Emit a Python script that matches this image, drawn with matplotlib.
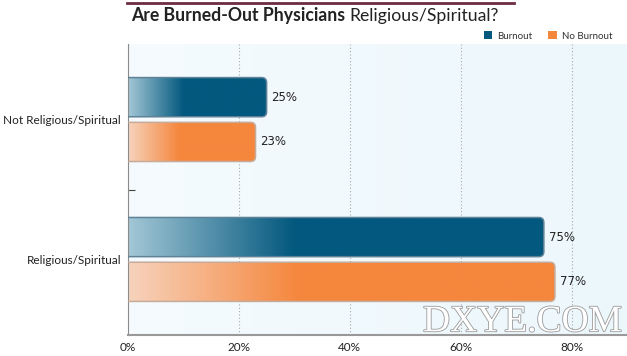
import numpy as np
import matplotlib.pyplot as plt
from matplotlib.patches import FancyBboxPatch, Patch
from matplotlib.colors import to_rgb
import matplotlib.patheffects as pe

# -----------------------------
# Data
# -----------------------------
categories = ['Not Religious/Spiritual', 'Religious/Spiritual']
burnout = [25, 75]
no_burnout = [23, 77]
xticks = [0, 20, 40, 60, 80]
xtick_labels = ['0%', '20%', '40%', '60%', '80%']

blue_dark, blue_light, blue_edge = '#03587e', '#a3c7d6', '#5f8296'
orange_dark, orange_light, orange_edge = '#f5873d', '#f7d3bd', '#c6ab9b'

plt.rcParams['font.family'] = ['Lato', 'DejaVu Sans']

W, H = 627, 356
fig = plt.figure(figsize=(W / 100, H / 100), dpi=100)
ax = fig.add_axes([128 / W, 1 - 335 / H, 1 - 128 / W, (335 - 44) / H])

ax.set_xlim(0, 90)
ax.set_ylim(-0.54, 1.54)
ypos = np.arange(len(categories))[::-1]  # first category on top

# axes background gradient
bg = np.linspace(0, 1, 256)[None, :, None]
c0, c1 = np.array(to_rgb('#f5fbfe')), np.array(to_rgb('#ecf7fc'))
ax.imshow(c0 + (c1 - c0) * bg, extent=[0, 90, -0.54, 1.54], aspect='auto',
          zorder=0, interpolation='bilinear')

# pixel scales for rounded corners
px_x = 90 / ((1 - 128 / W) * W)
px_y = 2.08 / ((335 - 44))
aspect = px_y / px_x


def grad_bar(y, val, h, light, dark, edge):
    n = 256
    t = np.linspace(0, 1, n)
    f = np.clip(t / 0.4, 0, 1)
    lo, hi = np.array(to_rgb(light)), np.array(to_rgb(dark))
    img = (lo + (hi - lo) * f[:, None])[None, :, :]
    r = 5 * px_x
    patch = FancyBboxPatch((-3, y - h / 2), val + 3, h,
                           boxstyle=f'round,pad=0,rounding_size={r}',
                           mutation_aspect=aspect,
                           facecolor='none', edgecolor=edge, lw=1.1, zorder=3)
    ax.add_patch(patch)
    im = ax.imshow(img, extent=[0, val, y - h / 2, y + h / 2], aspect='auto',
                   zorder=2, interpolation='bilinear')
    im.set_clip_path(patch)
    ax.text(val + 5 * px_x, y, f'{val}%', va='center', ha='left',
            fontsize=8.5, family='DejaVu Sans', color='#222222', zorder=4)


bh = 0.28
off = 0.16
for y, b, nb in zip(ypos, burnout, no_burnout):
    grad_bar(y + off, b, bh, blue_light, blue_dark, blue_edge)
    grad_bar(y - off, nb, bh, orange_light, orange_dark, orange_edge)

ax.set_xlim(0, 90)
ax.set_ylim(-0.54, 1.54)

# grid and axes
for x in xticks[1:]:
    ax.axvline(x, color='#aaaaaa', ls=(0, (1, 2)), lw=0.8, zorder=1)
ax.set_xticks(xticks)
ax.set_xticklabels(xtick_labels, fontsize=8.5, color='#222222')
ax.set_yticks(ypos)
ax.set_yticklabels(categories, fontsize=8.5, color='#222222')
ax.tick_params(axis='both', length=0, pad=5)
ax.set_yticks([0.5], minor=True)
ax.tick_params(axis='y', which='minor', direction='in', length=5,
               color='#444444', width=0.8)
for s in ['top', 'right']:
    ax.spines[s].set_visible(False)
ax.spines['left'].set_color('#8a8a8a')
ax.spines['bottom'].set_color('#999999')
ax.spines['bottom'].set_linewidth(1.5)

# legend
handles = [Patch(facecolor=blue_dark, edgecolor='none', label='Burnout'),
           Patch(facecolor=orange_dark, edgecolor='none', label='No Burnout')]
fig.legend(handles=handles, loc='center right', bbox_to_anchor=(616 / W, 1 - 36 / H),
           ncol=2, frameon=False, fontsize=7, handlelength=0.9, handleheight=0.9,
           columnspacing=1.6, handletextpad=0.5, borderaxespad=0,
           labelcolor='#333333')

# title with top rule
fig.add_artist(plt.Line2D([127 / W, 514 / W], [1 - 2.5 / H] * 2, color='#6b2d3f', lw=2))
t1 = fig.text(131 / W, 1 - 16 / H, 'Are Burned-Out Physicians', fontsize=12.7,
              fontweight='bold', va='center', ha='left', color='#222222')
fig.canvas.draw()
bb = t1.get_window_extent(fig.canvas.get_renderer())
fig.text((bb.x1 + 4) / W, 1 - 16 / H, 'Religious/Spiritual?', fontsize=12.7,
         va='center', ha='left', color='#222222')

# watermark
fig.text(423 / W, 1 - 322 / H, 'DXYE.COM', fontsize=27, family='Liberation Serif',
         color='white', va='center', ha='left',
         path_effects=[pe.withStroke(linewidth=1.2, foreground='#9a9a9a')])

fig.savefig('out.png', dpi=100)
